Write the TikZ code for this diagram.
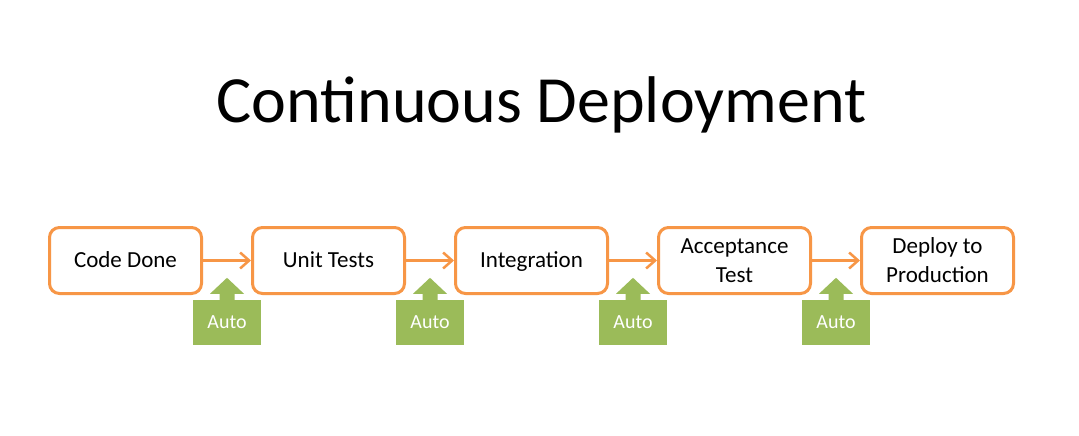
\documentclass[tikz,border=0pt]{standalone}
\usepackage{fontspec}
\setmainfont{Carlito}
\usetikzlibrary{positioning,calc,arrows.meta}
\definecolor{deployorange}{HTML}{F79646}
\definecolor{autogreen}{HTML}{9BBB59}
\begin{document}
\begin{tikzpicture}[x=1pt,y=1pt,
        stage/.style={draw=deployorange,line width=3pt,rounded corners=10pt,fill=white,
            minimum width=152pt,minimum height=66pt,align=center,
            font=\fontsize{23}{29}\selectfont},
        oneline/.style={text height=17pt,text depth=3pt},
        flow/.style={draw=deployorange,line width=2.5pt,-{Straight Barb[length=9pt,width=16pt]}},
        autobox/.style={fill=autogreen,text=white,minimum width=68pt,minimum height=45pt,
            inner sep=0pt,font=\fontsize{20}{24}\selectfont}]
    \path[use as bounding box,fill=white](0,0)rectangle(1079,-436);
    \node[font=\fontsize{66}{70}\selectfont,anchor=base](title)at(541.5,-122){Continuous Deployment};
    \node[stage,oneline](b1)at(125.5,-260.5){Code Done};
    \node[stage,oneline,right=48pt of b1](b2){Unit Tests};
    \node[stage,oneline,right=48pt of b2](b3){Integration};
    \node[stage,right=48pt of b3](b4){Acceptance\\Test};
    \node[stage,right=48pt of b4](b5){Deploy to\\Production};
    % automated step between two stages
    \foreach \i/\j in {1/2,2/3,3/4,4/5}{
        \draw[flow](b\i)--(b\j);
        \node[autobox](a\i)at($(b\i.east)!0.5!(b\j.west)+(0,-62)$){Auto};
        \fill[autogreen]([xshift=-7.5pt,yshift=-0.5pt]a\i.north)--++(0,6.5)--++(-9.5,0)
            --++(17,16)--++(17,-16)--++(-9.5,0)--++(0,-6.5)--cycle;
    }
\end{tikzpicture}
\end{document}
